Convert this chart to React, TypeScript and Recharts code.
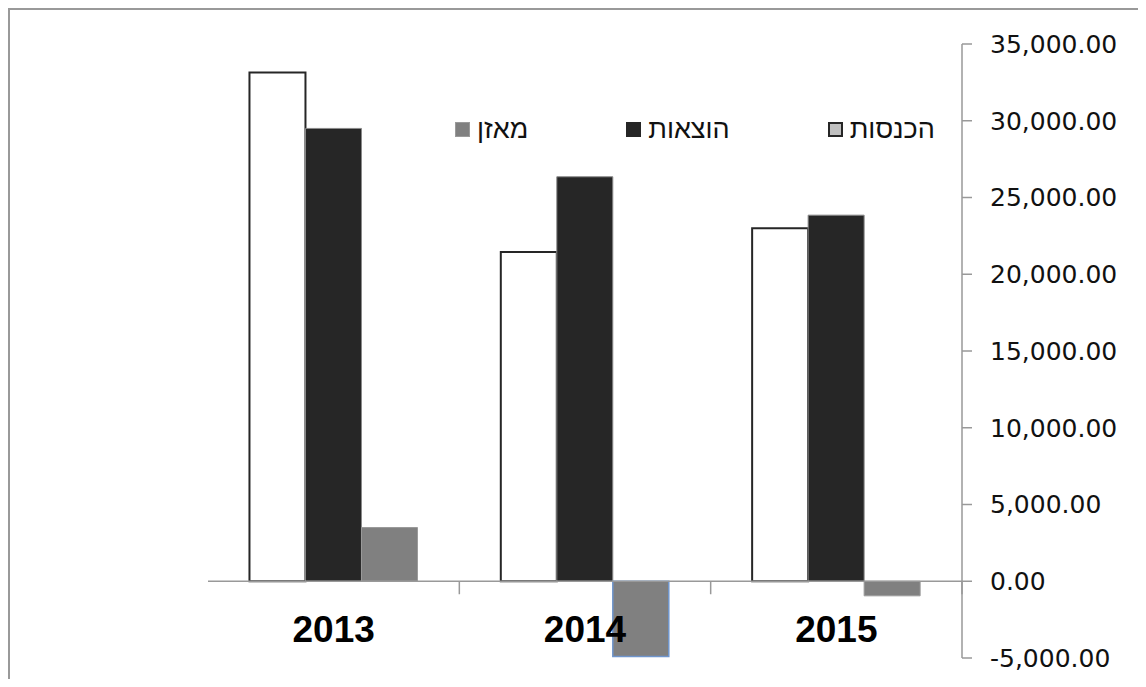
import React from 'react';
import { BarChart, Bar, XAxis, YAxis, ReferenceLine, Legend, Cell } from 'recharts';

// years on the category axis
const categories = ['2013', '2014', '2015'];

// series values
const income = [33150, 21450, 23000];
const expenses = [29500, 26350, 23850];
const balance = [3500, -4900, -950];

const yTicks = [-5000, 0, 5000, 10000, 15000, 20000, 25000, 30000, 35000];

const seriesNames = {
  income: 'הכנסות',
  expenses: 'הוצאות',
  balance: 'מאזן',
};

const chartData = categories.map((year, i) => ({
  year,
  income: income[i],
  expenses: expenses[i],
  balance: balance[i],
}));

const formatNumber = (value: number) =>
  value.toLocaleString('en-US', { minimumFractionDigits: 2, maximumFractionDigits: 2 });

// legend items, drawn left to right like the original (rtl order)
const legendItems = [
  { key: 'balance', fill: '#808080', stroke: '#9a9a9a', strokeWidth: 1 },
  { key: 'expenses', fill: '#262626', stroke: '#262626', strokeWidth: 1 },
  { key: 'income', fill: '#c0c0c0', stroke: '#262626', strokeWidth: 2 },
];

const CustomLegend = () => (
  <div style={{ display: 'flex', gap: 98, alignItems: 'center', fontFamily: 'Liberation Sans', fontSize: 27, color: '#111' }}>
    {legendItems.map((item) => (
      <div key={item.key} style={{ display: 'flex', alignItems: 'center', gap: 7 }}>
        <span
          style={{
            display: 'inline-block',
            width: 15,
            height: 15,
            boxSizing: 'border-box',
            background: item.fill,
            border: `${item.strokeWidth}px solid ${item.stroke}`,
          }}
        />
        <span>{seriesNames[item.key as keyof typeof seriesNames]}</span>
      </div>
    ))}
  </div>
);

// x axis sits on the zero line; draw the category boundary ticks from it
const ZeroAxis = (props: any) => {
  const { x1, y1, x2, y2 } = props;
  const step = (x2 - x1) / categories.length;
  return (
    <g>
      <line x1={x1} y1={y1} x2={x2} y2={y2} stroke="#999" strokeWidth={1.5} />
      {categories.map((_, i) => (
        <line key={i} x1={x1 + i * step} y1={y1} x2={x1 + i * step} y2={y1 + 13} stroke="#999" strokeWidth={1.5} />
      ))}
    </g>
  );
};

const CategoryTick = (props: any) => {
  const { x, y, payload } = props;
  return (
    <text x={x} y={y - 16} textAnchor="middle" fontFamily="Liberation Sans" fontWeight="bold" fontSize={37} fill="#000">
      {payload.value}
    </text>
  );
};

export default function App() {
  return (
    <div
      style={{
        width: 1128,
        height: 669,
        borderTop: '2px solid #999',
        borderLeft: '2px solid #999',
        background: '#fff',
      }}
    >
      <BarChart
        width={1128}
        height={669}
        data={chartData}
        margin={{ top: 34, right: 0, left: 198, bottom: 1 }}
        barCategoryGap="16.5%"
        barGap={0}
      >
        <XAxis
          dataKey="year"
          height={20}
          axisLine={false}
          tickLine={false}
          tickSize={0}
          tickMargin={0}
          tick={<CategoryTick />}
          interval={0}
        />
        <YAxis
          orientation="right"
          width={176}
          domain={[-5000, 35000]}
          ticks={yTicks}
          allowDataOverflow
          tickFormatter={formatNumber}
          axisLine={{ stroke: '#999', strokeWidth: 1.5 }}
          tickLine={{ stroke: '#999', strokeWidth: 1.5 }}
          tickSize={10}
          tickMargin={18}
          tick={{ fill: '#111', fontSize: 25, fontFamily: 'DejaVu Sans', textAnchor: 'start' }}
        />
        <Legend
          layout="horizontal"
          verticalAlign="middle"
          align="center"
          content={<CustomLegend />}
          wrapperStyle={{ position: 'absolute', left: 445, top: 104, width: 'auto', height: 'auto' }}
        />
        <Bar dataKey="income" name={seriesNames.income} fill="#ffffff" stroke="#262626" strokeWidth={2} isAnimationActive={false} />
        <Bar dataKey="expenses" name={seriesNames.expenses} fill="#262626" stroke="#8a8a8a" strokeWidth={1} isAnimationActive={false} />
        <Bar dataKey="balance" name={seriesNames.balance} fill="#808080" isAnimationActive={false}>
          {chartData.map((entry, i) => (
            <Cell
              key={entry.year}
              stroke={entry.balance < -4000 ? '#6f95cc' : '#9a9a9a'}
              strokeWidth={entry.balance < -4000 ? 1.5 : 1}
            />
          ))}
        </Bar>
        <ReferenceLine y={0} shape={<ZeroAxis />} ifOverflow="extendDomain" />
      </BarChart>
    </div>
  );
}
